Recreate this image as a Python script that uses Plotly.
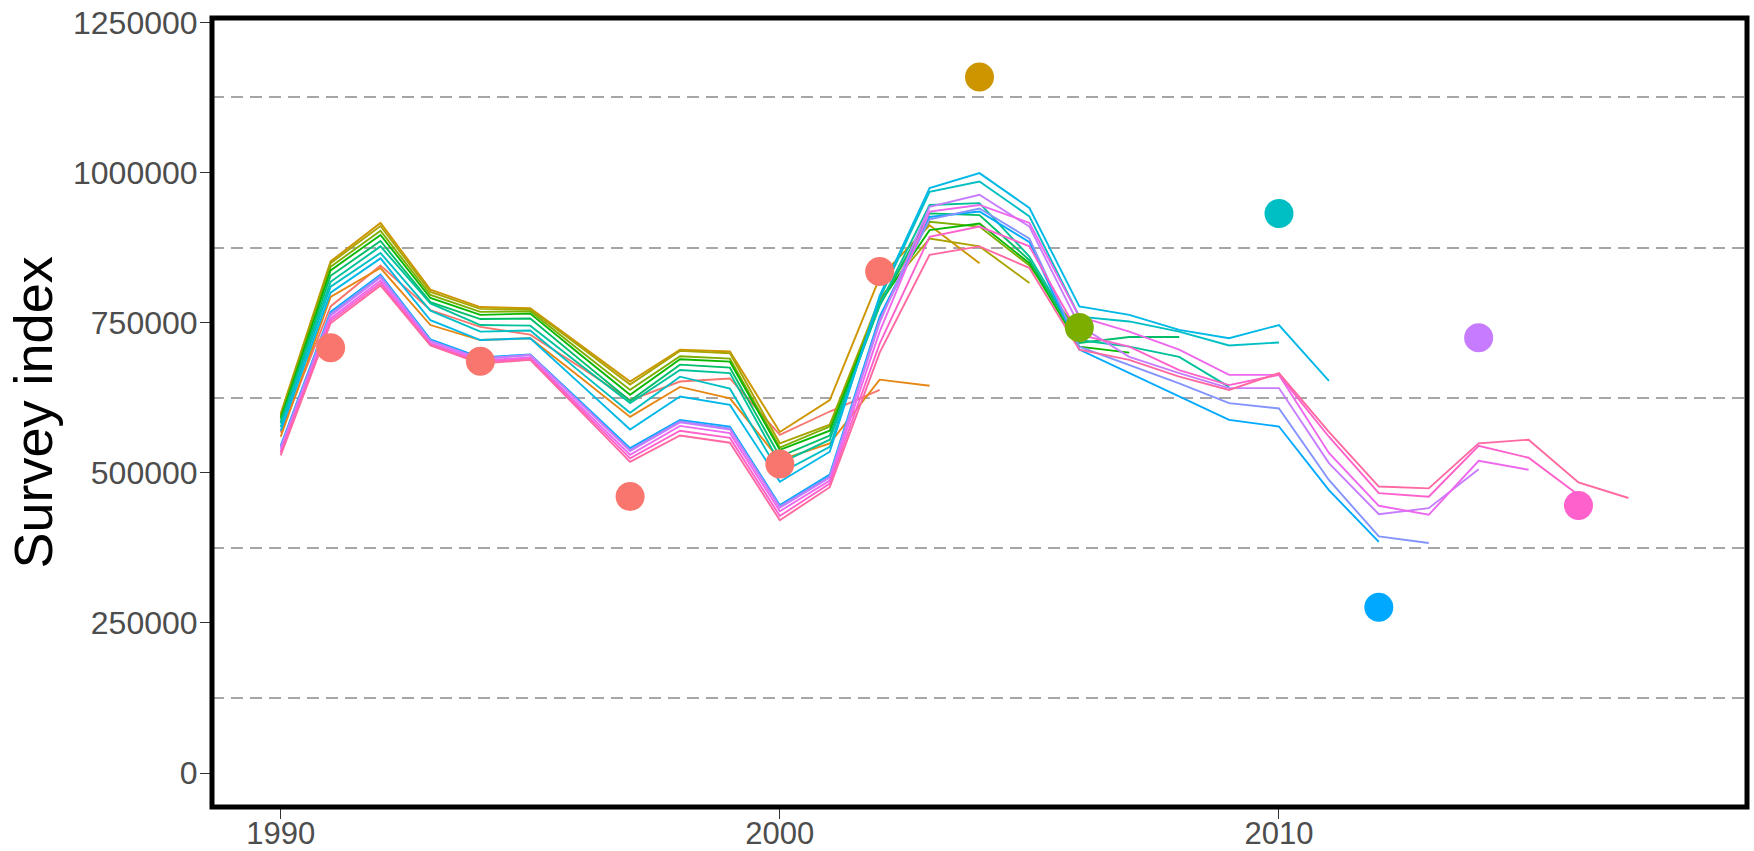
import math
import plotly.graph_objects as go

# ---------------- data (values in thousands) ----------------
start_year = 1990
peel_years = [2002, 2003, 2004, 2005, 2006, 2007, 2008, 2009,
              2010, 2011, 2012, 2013, 2014, 2015, 2016, 2017]

peel_2002 = [567, 777, 845, 771, 743, 730, 676, 621, 652, 657, 563, 602, 638]
peel_2003 = [560, 793, 841, 746, 721, 724, 659, 593, 643, 624, 521, 549, 655, 645]
peel_2004 = [598, 852, 916, 805, 776, 774, 713, 652, 705, 702, 568, 621, 825, 912, 849]
peel_2005 = [596, 849, 911, 801, 773, 772, 710, 647, 703, 699, 549, 580, 790, 890, 877, 816]
peel_2006 = [593, 843, 903, 796, 768, 769, 703, 638, 694, 690, 542, 577, 785, 918, 910, 845, 733]
peel_2007 = [590, 837, 896, 791, 763, 765, 697, 630, 689, 685, 538, 570, 782, 904, 915, 849, 710, 700]
peel_2008 = [585, 828, 886, 784, 756, 757, 688, 620, 680, 675, 527, 562, 778, 932, 929, 854, 716, 726, 726]
peel_2009 = [582, 818, 877, 782, 746, 745, 680, 616, 671, 666, 516, 555, 780, 946, 949, 860, 721, 710, 693, 643]
peel_2010 = [576, 810, 866, 770, 735, 737, 668, 600, 660, 640, 499, 543, 790, 968, 985, 927, 760, 752, 735, 712, 717]
peel_2011 = [570, 800, 857, 754, 721, 724, 648, 572, 627, 613, 485, 535, 795, 974, 999, 941, 777, 763, 738, 724, 746, 653]
peel_2012 = [545, 768, 830, 722, 692, 697, 619, 541, 588, 577, 446, 497, 760, 926, 935, 884, 705, 666, 627, 588, 577, 471, 385]
peel_2013 = [543, 765, 828, 720, 690, 696, 617, 538, 586, 574, 444, 494, 755, 922, 940, 890, 710, 680, 649, 616, 607, 488, 394, 383]
peel_2014 = [540, 762, 825, 719, 690, 696, 616, 536, 584, 572, 442, 492, 750, 943, 963, 910, 745, 693, 666, 641, 641, 516, 431, 441, 506]
peel_2015 = [536, 757, 820, 716, 687, 692, 611, 530, 578, 566, 436, 487, 735, 935, 946, 916, 760, 735, 705, 663, 663, 533, 445, 430, 520, 505]
peel_2016 = [533, 753, 816, 714, 684, 690, 607, 524, 570, 558, 428, 482, 715, 893, 910, 877, 730, 710, 671, 646, 663, 560, 466, 460, 545, 525, 463]
peel_2017 = [529, 749, 812, 712, 682, 688, 603, 518, 562, 550, 421, 476, 700, 863, 877, 841, 705, 688, 660, 638, 666, 568, 477, 474, 549, 555, 484, 458]

peel_values = [peel_2002, peel_2003, peel_2004, peel_2005, peel_2006, peel_2007,
               peel_2008, peel_2009, peel_2010, peel_2011, peel_2012, peel_2013,
               peel_2014, peel_2015, peel_2016, peel_2017]

point_years = [1991, 1994, 1997, 2000, 2002, 2004, 2006, 2010, 2012, 2014, 2016]
point_values = [708200, 685900, 460500, 514500, 835000, 1159000, 741800, 931700, 276100, 725000, 445500]
point_peel = [2002, 2002, 2002, 2002, 2002, 2004, 2006, 2010, 2012, 2014, 2016]

y_ticks = [0, 250000, 500000, 750000, 1000000, 1250000]
y_minor = [125000, 375000, 625000, 875000, 1125000]
x_ticks = [1990, 2000, 2010]
y_title = "Survey index"


# ---------------- ggplot-like hue palette ----------------
def hcl_hex(h, c=100.0, l=65.0):
    hr = math.radians(h)
    u = c * math.cos(hr)
    v = c * math.sin(hr)
    Xn, Yn, Zn = 95.047, 100.0, 108.883
    Y = Yn * ((l + 16) / 116) ** 3 if l > 8 else Yn * l / 903.3
    den = Xn + 15 * Yn + 3 * Zn
    un, vn = 4 * Xn / den, 9 * Yn / den
    up = u / (13 * l) + un
    vp = v / (13 * l) + vn
    X = 9.0 * Y * up / (4 * vp)
    Z = -X / 3 - 5 * Y + 3 * Y / vp
    X, Y, Z = X / 100, Y / 100, Z / 100
    r = 3.240479 * X - 1.537150 * Y - 0.498535 * Z
    g = -0.969256 * X + 1.875992 * Y + 0.041556 * Z
    b = 0.055648 * X - 0.204043 * Y + 1.057311 * Z

    def gam(t):
        t = 12.92 * t if t <= 0.0031308 else 1.055 * t ** (1 / 2.4) - 0.055
        return max(0, min(255, int(round(t * 255))))

    return "#{:02X}{:02X}{:02X}".format(gam(r), gam(g), gam(b))


def hue_pal(n):
    step = 360.0 / n
    return [hcl_hex(15 + i * step) for i in range(n)]


colors = hue_pal(len(peel_years))
color_of = dict(zip(peel_years, colors))

fig = go.Figure()

for py, vals in zip(peel_years, peel_values):
    yrs = list(range(start_year, start_year + len(vals)))
    fig.add_trace(go.Scatter(
        x=yrs, y=[v * 1000 for v in vals], mode="lines",
        line=dict(color=color_of[py], width=1.9),
        name=str(py), showlegend=False, hoverinfo="skip"))

fig.add_trace(go.Scatter(
    x=point_years, y=point_values, mode="markers",
    marker=dict(size=29, color=[color_of[p] for p in point_peel], line=dict(width=0)),
    showlegend=False, hoverinfo="skip"))

font_family = "Liberation Sans, Arial, sans-serif"

fig.update_layout(
    width=1754, height=851,
    margin=dict(l=212, r=7, t=18, b=44, pad=0),
    paper_bgcolor="white", plot_bgcolor="white",
    showlegend=False,
    xaxis=dict(
        range=[1988.624, 2019.376], tickvals=x_ticks, ticktext=[str(t) for t in x_ticks],
        ticks="outside", ticklen=11, tickwidth=1.2, tickcolor="#333333",
        tickfont=dict(family=font_family, size=31, color="#4D4D4D"),
        ticklabelstandoff=-12, ticklabeloverflow="allow",
        showgrid=False, zeroline=False, showline=False, automargin=False),
    yaxis=dict(
        range=[-56630, 1257330], tickvals=y_ticks, ticktext=[str(t) for t in y_ticks],
        ticks="outside", ticklen=11, tickwidth=1.2, tickcolor="#333333",
        tickfont=dict(family=font_family, size=32, color="#4D4D4D"),
        ticklabelstandoff=-4, ticklabeloverflow="allow",
        showgrid=False, zeroline=False, showline=False, automargin=False,
        minor=dict(tickvals=y_minor, showgrid=True, gridcolor="#A6A6A6",
                   gridwidth=1.8, griddash="12px,7px", ticks="")),
    shapes=[dict(type="rect", xref="paper", yref="paper", x0=0, x1=1, y0=0, y1=1,
                 line=dict(color="black", width=5), fillcolor="rgba(0,0,0,0)", layer="above")],
    annotations=[dict(text=y_title, xref="paper", yref="paper", x=0, y=0.5,
                      xshift=-180, xanchor="center", yanchor="middle", textangle=-90,
                      showarrow=False,
                      font=dict(family=font_family, size=54, color="black"))],
)

# remove the browser's default page margin so the figure fills the window exactly
fig.write_html("out.html", config={"displayModeBar": False},
               post_script="document.body.style.margin='0';")
